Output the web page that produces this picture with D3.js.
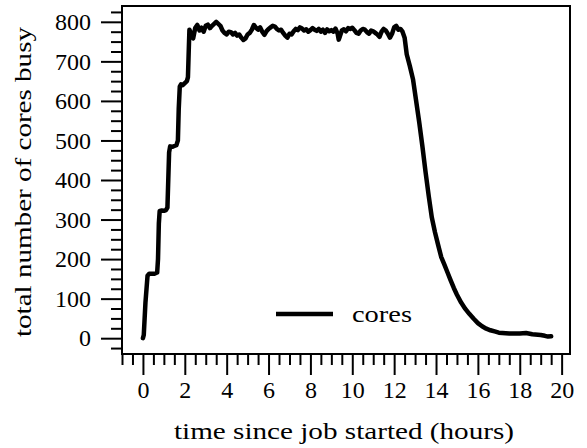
<!DOCTYPE html>
<html>
<head>
<meta charset="utf-8">
<script src="https://cdn.jsdelivr.net/npm/d3@7"></script>
<style>
  body { margin: 0; background: #fff; }
  text { font-family: "Liberation Serif", "Times New Roman", serif; fill: #000; }
</style>
</head>
<body>
<script>
// hours since start
const hours = [
  0.0, 0.04, 0.12, 0.22, 0.3, 0.45, 0.55, 0.68, 0.72, 0.76, 0.8, 0.9, 1.0, 1.1, 1.17, 1.21, 1.25, 1.3,
  1.4, 1.5, 1.6, 1.67, 1.71, 1.76, 1.82, 1.9, 2.0, 2.1, 2.15, 2.19, 2.22,
  2.3, 2.4, 2.5, 2.6, 2.7, 2.8, 2.9, 3.0, 3.1, 3.2, 3.3, 3.4, 3.5, 3.6, 3.7, 3.8, 3.9, 4.0,
  4.1, 4.2, 4.3, 4.4, 4.5, 4.6, 4.7, 4.8, 4.9, 5.0, 5.1, 5.2, 5.3, 5.4, 5.5, 5.6, 5.7, 5.8,
  5.9, 6.0, 6.1, 6.2, 6.3, 6.4, 6.5, 6.6, 6.7, 6.8, 6.9, 7.0, 7.1, 7.2, 7.3, 7.4, 7.5, 7.6,
  7.7, 7.8, 7.9, 8.0, 8.1, 8.2, 8.3, 8.4, 8.5, 8.6, 8.7, 8.8, 8.9, 9.0, 9.1, 9.2, 9.3, 9.35,
  9.4, 9.5, 9.6, 9.7, 9.8, 9.9, 10.0, 10.1, 10.2, 10.3, 10.4, 10.5, 10.6, 10.7, 10.8, 10.9,
  11.0, 11.1, 11.2, 11.3, 11.4, 11.5, 11.6, 11.7, 11.8, 11.9, 12.0, 12.1, 12.2, 12.3, 12.4,
  12.5, 12.6, 12.75, 12.9, 13.05, 13.2, 13.35, 13.5, 13.65, 13.8, 13.95, 14.1, 14.25, 14.4,
  14.55, 14.7, 14.85, 15.0, 15.2, 15.4, 15.6, 15.8, 16.0, 16.2, 16.4, 16.6, 16.8, 17.0, 17.5,
  18.0, 18.3, 18.6, 19.0, 19.2, 19.35, 19.5
];

// total number of busy cores at each time
const cores = [
  0, 8, 90, 158, 163, 163, 163, 166, 200, 290, 322, 323, 322, 324, 330, 400, 470, 485,
  484, 486, 488, 500, 580, 636, 642, 640, 645, 650, 660, 730, 780,
  770, 758, 785, 792, 778, 785, 775, 790, 793, 784, 790, 795, 800, 795, 790, 778, 772, 768,
  775, 774, 768, 772, 765, 768, 760, 754, 758, 768, 772, 780, 792, 785, 780, 786, 775, 767,
  776, 782, 786, 790, 788, 782, 778, 780, 772, 765, 760, 770, 768, 776, 782, 779, 786, 783,
  778, 781, 775, 779, 784, 780, 777, 782, 775, 780, 772, 781, 776, 779, 775, 783, 770, 755,
  762, 778, 781, 776, 784, 782, 785, 779, 772, 770, 778, 782, 780, 774, 770, 778,
  776, 772, 768, 762, 775, 782, 778, 770, 760, 770, 786, 790, 780, 782, 775,
  760, 718, 688, 655, 600, 545, 485, 420, 360, 305, 268, 236, 205, 186,
  166, 146, 127, 110, 90, 74, 61, 49, 38, 30, 24, 20, 17, 14, 12,
  12, 13, 10, 8, 6, 4, 5
];

const xMajorTicks = [0, 2, 4, 6, 8, 10, 12, 14, 16, 18, 20];
const yMajorTicks = [0, 100, 200, 300, 400, 500, 600, 700, 800];
const seriesName = "cores";
const xLabel = "time since job started (hours)";
const yLabel = "total number of cores busy";

const width = 587, height = 448;
const frame = {left: 122, right: 570, top: 6, bottom: 354};

const svg = d3.select("body").append("svg")
    .attr("width", width)
    .attr("height", height);

const x = d3.scaleLinear().domain([-1, 20.4]).range([frame.left, frame.right]);
const y = d3.scaleLinear().domain([-40, 840]).range([frame.bottom, frame.top]);

// minor ticks every half hour / every 25 cores
const xMinor = d3.range(-1, 20.01, 0.5).filter(d => !xMajorTicks.includes(d));
const yMinor = d3.range(-25, 840, 25).filter(d => !yMajorTicks.includes(d));

function styleAxis(g) {
  g.select(".domain").remove();
  g.selectAll(".tick line").attr("stroke", "#000").attr("stroke-width", 2);
  g.selectAll(".tick text")
    .style("font-size", "24px")
    .style("font-family", "'Liberation Serif', serif");
}

// x axis, ticks hang below the frame
svg.append("g")
    .attr("transform", `translate(0,${frame.bottom})`)
    .call(d3.axisBottom(x).tickValues(xMinor).tickSize(11).tickFormat(""))
    .call(styleAxis);
svg.append("g")
    .attr("transform", `translate(0,${frame.bottom})`)
    .call(d3.axisBottom(x).tickValues(xMajorTicks).tickSize(21).tickPadding(6).tickFormat(d3.format("d")))
    .call(styleAxis);

// y axis, ticks stick out to the left
svg.append("g")
    .attr("transform", `translate(${frame.left},0)`)
    .call(d3.axisLeft(y).tickValues(yMinor).tickSize(11).tickFormat(""))
    .call(styleAxis);
svg.append("g")
    .attr("transform", `translate(${frame.left},0)`)
    .call(d3.axisLeft(y).tickValues(yMajorTicks).tickSize(21).tickPadding(10).tickFormat(d3.format("d")))
    .call(styleAxis);

// frame
svg.append("rect")
    .attr("x", frame.left)
    .attr("y", frame.top)
    .attr("width", frame.right - frame.left)
    .attr("height", frame.bottom - frame.top)
    .attr("fill", "none")
    .attr("stroke", "#000")
    .attr("stroke-width", 2);

const points = hours.map((h, i) => [h, cores[i]]);

const line = d3.line()
    .x(d => x(d[0]))
    .y(d => y(d[1]));

svg.append("path")
    .datum(points)
    .attr("d", line)
    .attr("fill", "none")
    .attr("stroke", "#000")
    .attr("stroke-width", 4.5)
    .attr("stroke-linejoin", "round")
    .attr("stroke-linecap", "round");

// legend
svg.append("line")
    .attr("x1", 276).attr("x2", 333)
    .attr("y1", 314).attr("y2", 314)
    .attr("stroke", "#000")
    .attr("stroke-width", 4.5);
svg.append("text")
    .attr("x", 352)
    .attr("y", 322)
    .attr("textLength", 60)
    .attr("lengthAdjust", "spacingAndGlyphs")
    .style("font-size", "24px")
    .text(seriesName);

// axis titles (the original face is wider than Liberation Serif, so stretch to its width)
svg.append("text")
    .attr("x", (frame.left + frame.right) / 2 - 2)
    .attr("y", 439)
    .attr("text-anchor", "middle")
    .attr("textLength", 340)
    .attr("lengthAdjust", "spacingAndGlyphs")
    .style("font-size", "24px")
    .text(xLabel);

svg.append("text")
    .attr("transform", `translate(31,${(frame.top + frame.bottom) / 2 + 2}) rotate(-90)`)
    .attr("text-anchor", "middle")
    .attr("textLength", 310)
    .attr("lengthAdjust", "spacingAndGlyphs")
    .style("font-size", "24px")
    .text(yLabel);
</script>
</body>
</html>
